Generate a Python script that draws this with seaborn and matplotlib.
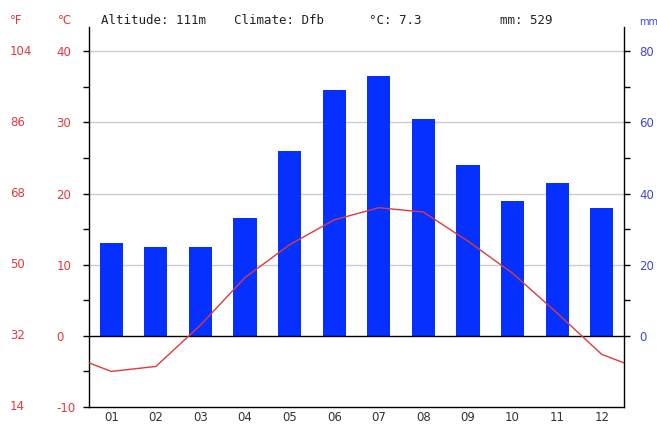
import numpy as np
import pandas as pd
import matplotlib
matplotlib.use('Agg')
import matplotlib.pyplot as plt
import matplotlib.transforms as mtransforms
import seaborn as sns

# Climate data
months = ['01', '02', '03', '04', '05', '06', '07', '08', '09', '10', '11', '12']
precip_mm = [26, 25, 25, 33, 52, 69, 73, 61, 48, 38, 43, 36]
temp_c = [-5.0, -4.3, 1.5, 8.2, 12.8, 16.3, 18.0, 17.4, 13.3, 8.8, 3.2, -2.6]
c_ticks = [-10, 0, 10, 20, 30, 40]
mm_ticks = [0, 20, 40, 60, 80]
header = [('Altitude: 111m', 101), ('Climate: Dfb', 234), ('°C: 7.3', 369), ('mm: 529', 500)]

RED = '#e0393e'
BLUE = '#3f48d0'
BAR = '#0530ff'

sns.set_style('white')
plt.rcParams['font.family'] = ['DejaVu Sans']

W, H = 657, 425
PT = 72 / 100  # points per pixel
fig = plt.figure(figsize=(W / 100, H / 100), dpi=100)
ax = fig.add_axes([89 / W, 1 - 407 / H, (624 - 89) / W, (407 - 27) / H])
ax2 = ax.twinx()  # temperature, drawn on top of the bars

df = pd.DataFrame({'month': months, 'mm': precip_mm})
sns.barplot(data=df, x='month', y='mm', color=BAR, saturation=1, width=0.52, ax=ax, zorder=2)
for p in ax.patches:
    p.set_edgecolor('none')

ax.set_xlim(-0.5, 11.5)
ax.set_ylim(-20, 86.8)
ax.set_xlabel('')
ax.set_ylabel('')
ax.yaxis.tick_right()
ax.set_yticks(mm_ticks)
ax.set_yticks([10, 30, 50, 70], minor=True)
ax.set_yticklabels([str(v) for v in mm_ticks], color=BLUE, fontsize=8.5)
ax.tick_params(axis='y', which='both', direction='out', length=4, width=1, color='black',
               right=True, left=False, labelright=True, labelleft=False, pad=10 * PT)
for v in mm_ticks[1:]:
    ax.axhline(v, color='#cccccc', lw=1, zorder=0)
ax.axhline(0, color='black', lw=1, zorder=3)

ax.set_xticks(range(12))
ax.set_xticklabels(months, color='#333333', fontsize=8.5)
ax.set_xticks(np.arange(-0.5, 12, 1), minor=True)
ax.tick_params(axis='x', which='major', length=0, pad=3)
ax.tick_params(axis='x', which='minor', direction='in', length=4, width=1, color='black')

for s in ['left', 'right', 'bottom']:
    ax.spines[s].set_visible(True)
    ax.spines[s].set_color('black')
    ax.spines[s].set_linewidth(1)
ax.spines['top'].set_visible(False)

tx = list(range(-1, 13))
ty = [temp_c[-1]] + temp_c + [temp_c[0]]
sns.lineplot(x=tx, y=ty, color=RED, lw=1, ax=ax2, sort=False)
ax2.set_xlim(-0.5, 11.5)
ax2.set_ylim(-10, 43.4)
ax2.yaxis.tick_left()
ax2.set_yticks(c_ticks)
ax2.set_yticks([-5, 5, 15, 25, 35], minor=True)
ax2.set_yticklabels([str(v) for v in c_ticks], color=RED, fontsize=8.5, ha='left')
ax2.tick_params(axis='y', which='both', direction='out', length=4, width=1, color='black',
                left=True, right=False, labelleft=True, labelright=False, pad=27 * PT)
ax2.set_ylabel('')
for s in ax2.spines.values():
    s.set_visible(False)

# Fahrenheit labels
trans = mtransforms.blended_transform_factory(fig.transFigure, ax2.transData)
for c in c_ticks:
    f = round(c * 9 / 5 + 32)
    ax2.text(10 / W, c, str(f), transform=trans, color=RED, fontsize=8.5,
             ha='left', va='center', clip_on=False)

# header texts
fig.text(10 / W, 1 - 20 / H, '°F', color=RED, fontsize=8.5, ha='left', va='center')
fig.text(58 / W, 1 - 20 / H, '°C', color=RED, fontsize=8.5, ha='left', va='center')
fig.text(639 / W, 1 - 22 / H, 'mm', color=BLUE, fontsize=7, ha='left', va='center')
for label, x in header:
    fig.text(x / W, 1 - 20 / H, label, family='DejaVu Sans Mono', fontsize=9,
             color='#222222', ha='left', va='center')

fig.savefig('out.png', dpi=100)
